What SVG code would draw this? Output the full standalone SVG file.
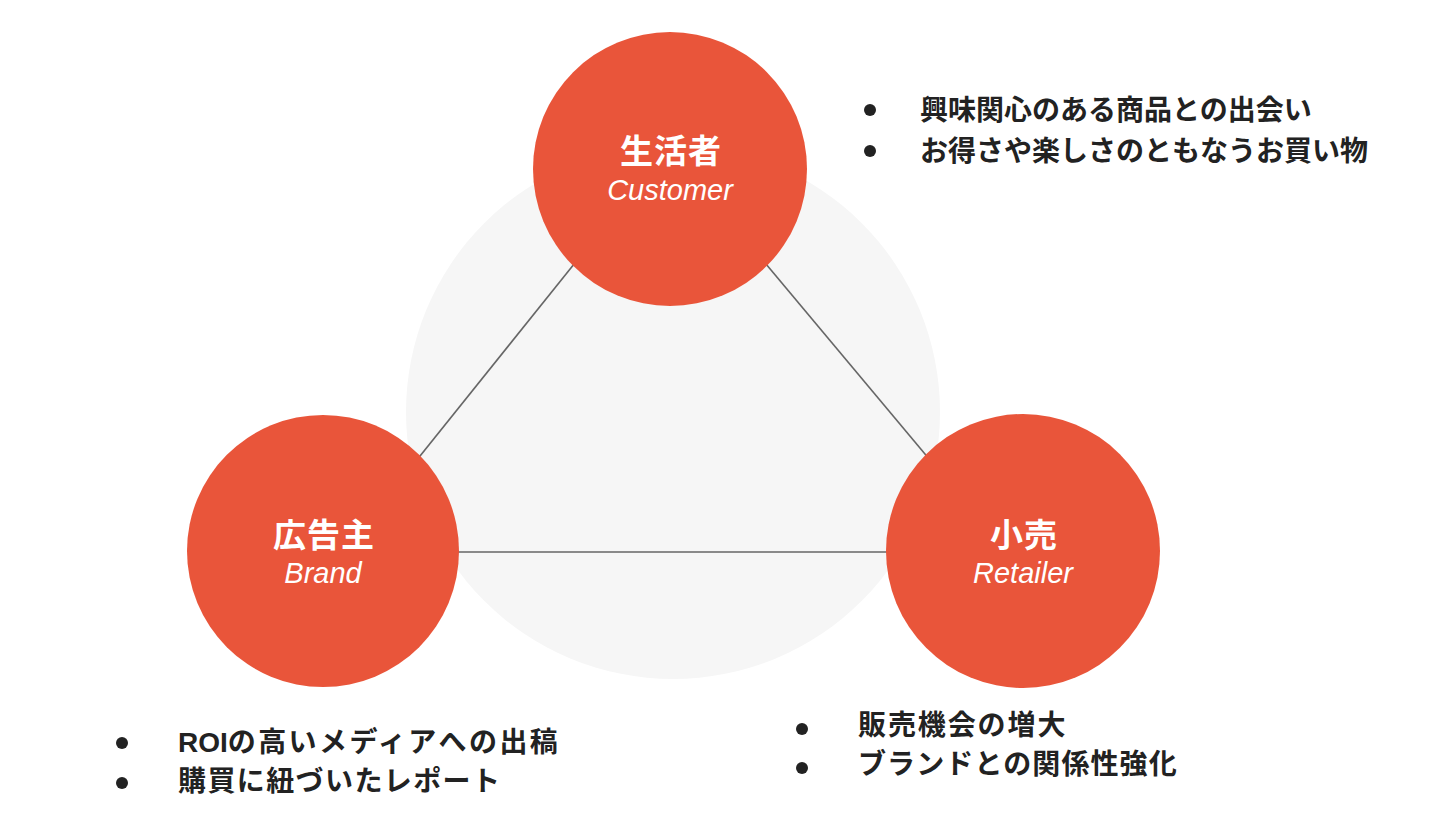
<svg xmlns="http://www.w3.org/2000/svg" width="1440" height="820" viewBox="0 0 1440 820">
<style>
.node{fill:#E9553A;}
.jp{font-family:"Liberation Sans","Noto Sans CJK JP",sans-serif;font-weight:bold;font-size:33px;letter-spacing:1px;fill:#ffffff;text-anchor:middle;}
.en{font-family:"Liberation Sans",Arial,sans-serif;font-style:italic;font-size:29px;fill:#ffffff;text-anchor:middle;}
.conn{stroke:#666666;stroke-width:1.6;fill:none;}
.bl{font-family:"Liberation Sans","Noto Sans CJK JP",sans-serif;font-weight:bold;font-size:28px;fill:#222222;}
.dot{fill:#222222;}
</style>
<rect width="1440" height="820" fill="#ffffff"/>
<circle cx="673" cy="412" r="267" fill="#f6f6f6"/>
<g id="connectors">
<line class="conn" x1="668" y1="147" x2="343" y2="552"/>
<line class="conn" x1="668" y1="147" x2="1007" y2="552"/>
<line class="conn" x1="343" y1="552" x2="1007" y2="552"/>
</g>
<g id="customer">
<circle class="node" cx="670" cy="169" r="137"/>
<text class="jp" x="671" y="163">生活者</text>
<text class="en" x="670" y="200">Customer</text>
</g>
<g id="brand">
<circle class="node" cx="323" cy="551" r="136"/>
<text class="jp" x="324" y="547">広告主</text>
<text class="en" x="323" y="583">Brand</text>
</g>
<g id="retailer">
<circle class="node" cx="1023" cy="551" r="137"/>
<text class="jp" x="1024" y="547">小売</text>
<text class="en" x="1023" y="583">Retailer</text>
</g>
<g id="customer-notes">
<circle class="dot" cx="870" cy="110" r="6"/>
<circle class="dot" cx="870" cy="151" r="6"/>
<text class="bl" x="920" y="120">興味関心のある商品との出会い</text>
<text class="bl" x="920" y="161">お得さや楽しさのともなうお買い物</text>
</g>
<g id="brand-notes">
<circle class="dot" cx="122" cy="743" r="6"/>
<circle class="dot" cx="122" cy="783" r="6"/>
<text class="bl" x="178" y="752">ROI<tspan letter-spacing="2.4">の高いメディアへの出稿</tspan></text>
<text class="bl" x="178" y="791" letter-spacing="1.4">購買に紐づいたレポート</text>
</g>
<g id="retailer-notes">
<circle class="dot" cx="802" cy="729" r="6"/>
<circle class="dot" cx="802" cy="768" r="6"/>
<text class="bl" x="858" y="735" letter-spacing="1.9">販売機会の増大</text>
<text class="bl" x="858" y="774" letter-spacing="1.1">ブランドとの関係性強化</text>
</g>
</svg>
